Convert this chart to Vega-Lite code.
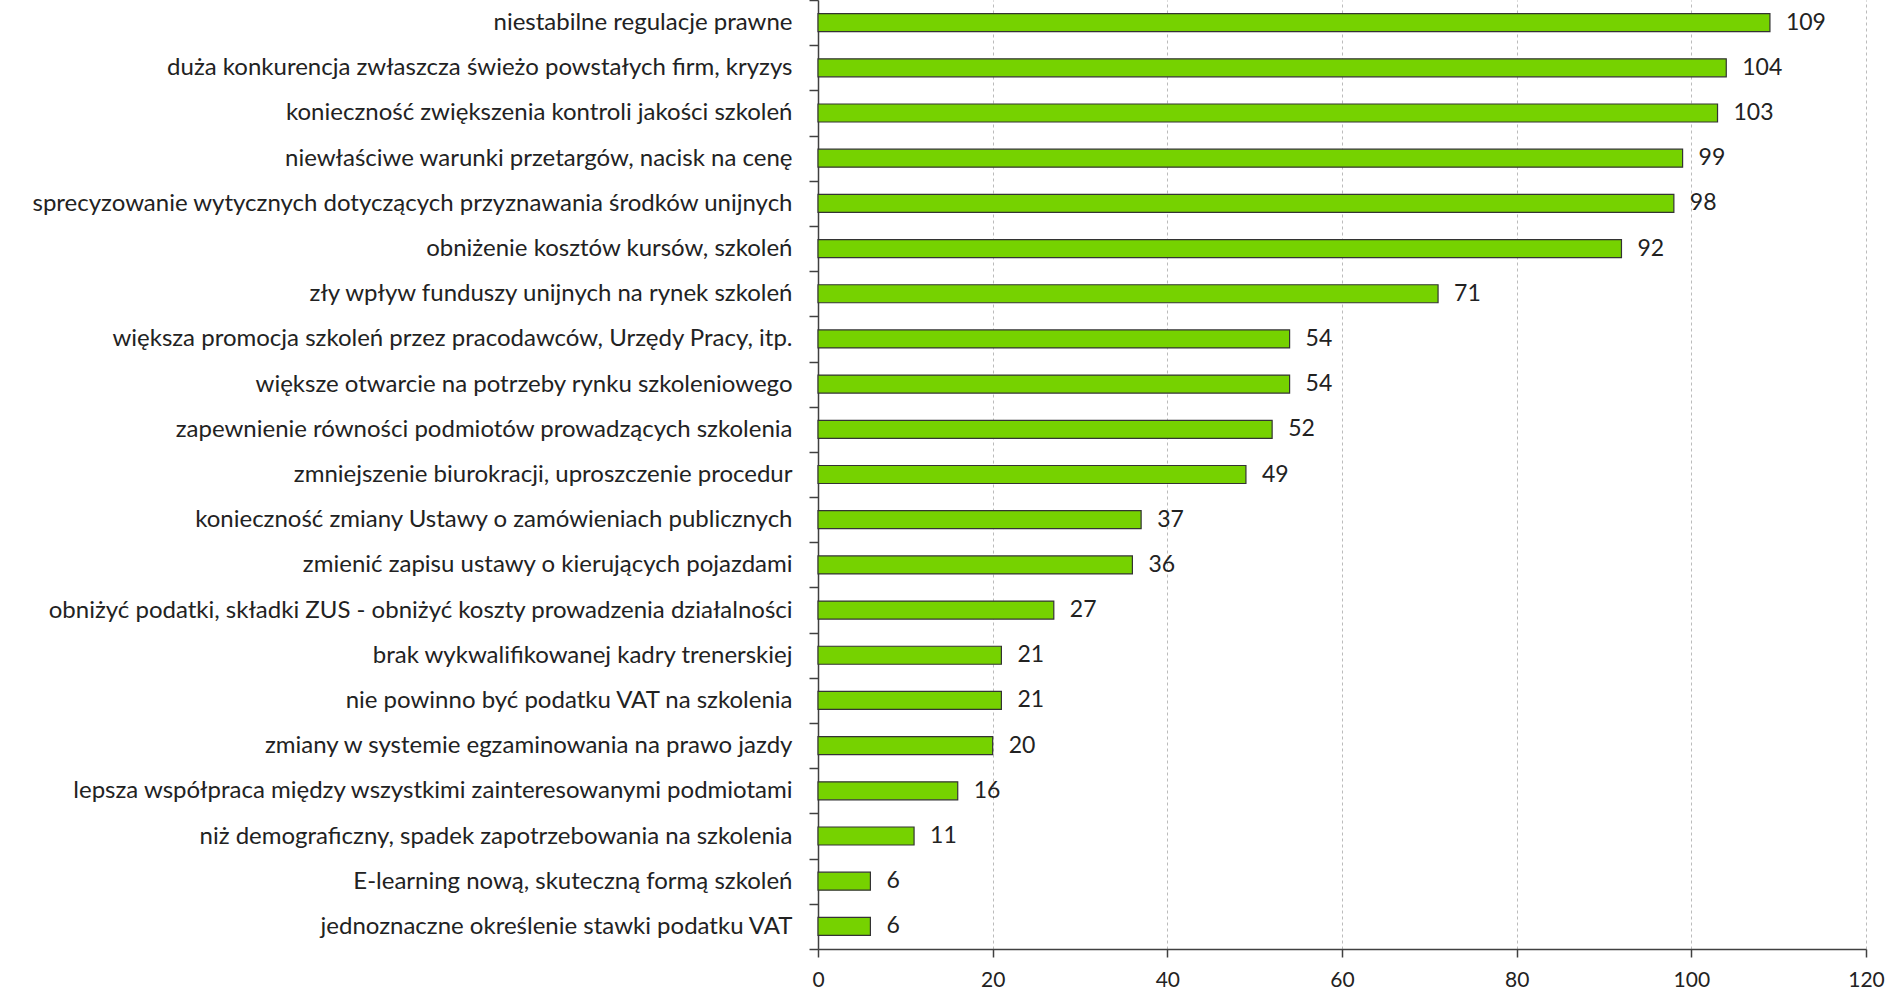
{
  "$schema": "https://vega.github.io/schema/vega-lite/v6.json",
  "width": 1048,
  "height": 949,
  "autosize": "none",
  "padding": {"left": 818, "top": 0, "right": 24, "bottom": 46},
  "background": "white",
  "config": {"view": {"stroke": null}, "font": "Lato"},
  "data": {"values": [
    {"label": "niestabilne regulacje prawne", "value": 109},
    {"label": "duża konkurencja zwłaszcza świeżo powstałych firm, kryzys", "value": 104},
    {"label": "konieczność zwiększenia kontroli jakości szkoleń", "value": 103},
    {"label": "niewłaściwe warunki przetargów, nacisk na cenę", "value": 99},
    {"label": "sprecyzowanie wytycznych dotyczących przyznawania środków unijnych", "value": 98},
    {"label": "obniżenie kosztów kursów, szkoleń", "value": 92},
    {"label": "zły wpływ funduszy unijnych na rynek szkoleń", "value": 71},
    {"label": "większa promocja szkoleń przez pracodawców, Urzędy Pracy, itp.", "value": 54},
    {"label": "większe otwarcie na potrzeby rynku szkoleniowego", "value": 54},
    {"label": "zapewnienie równości podmiotów prowadzących szkolenia", "value": 52},
    {"label": "zmniejszenie biurokracji, uproszczenie procedur", "value": 49},
    {"label": "konieczność zmiany Ustawy o zamówieniach publicznych", "value": 37},
    {"label": "zmienić zapisu ustawy o kierujących pojazdami", "value": 36},
    {"label": "obniżyć podatki, składki ZUS - obniżyć koszty prowadzenia działalności", "value": 27},
    {"label": "brak wykwalifikowanej kadry trenerskiej", "value": 21},
    {"label": "nie powinno być podatku VAT na szkolenia", "value": 21},
    {"label": "zmiany w systemie egzaminowania na prawo jazdy", "value": 20},
    {"label": "lepsza współpraca między wszystkimi zainteresowanymi podmiotami", "value": 16},
    {"label": "niż demograficzny, spadek zapotrzebowania na szkolenia", "value": 11},
    {"label": "E-learning nową, skuteczną formą szkoleń", "value": 6},
    {"label": "jednoznaczne określenie stawki podatku VAT", "value": 6}
  ]},
  "encoding": {
    "y": {
      "field": "label", "type": "nominal", "sort": null,
      "scale": {"paddingInner": 0, "paddingOuter": 0},
      "axis": {
        "title": null, "tickBand": "extent", "tickSize": 9, "labelPadding": 17,
        "labelFont": "Lato", "labelFontSize": 24, "labelColor": "#222222",
        "labelLimit": 900, "domainColor": "#404040", "tickColor": "#404040",
        "domainWidth": 1.5, "tickWidth": 1.5, "grid": false
      }
    },
    "x": {
      "field": "value", "type": "quantitative",
      "scale": {"domain": [0, 120], "nice": false},
      "axis": {
        "title": null, "values": [0, 20, 40, 60, 80, 100, 120],
        "tickSize": 8, "labelPadding": 12, "labelFlush": false,
        "labelFont": "Lato", "labelFontSize": 21, "labelColor": "#222222",
        "domainColor": "#404040", "tickColor": "#404040",
        "domainWidth": 1.5, "tickWidth": 1.5,
        "grid": true, "gridColor": "#BBBBBB", "gridDash": [3, 3], "gridWidth": 1
      }
    }
  },
  "layer": [
    {
      "mark": {"type": "bar", "size": 18, "fill": "#76D200", "stroke": "#333333", "strokeWidth": 1.2}
    },
    {
      "mark": {"type": "text", "align": "left", "baseline": "middle", "dx": 16, "font": "Lato", "fontSize": 23, "color": "#222222"},
      "encoding": {"text": {"field": "value", "type": "quantitative"}}
    }
  ]
}
